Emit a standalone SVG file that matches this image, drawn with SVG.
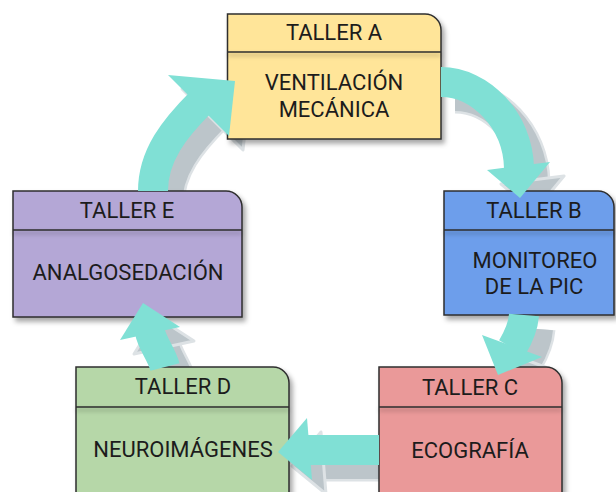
<svg xmlns="http://www.w3.org/2000/svg" width="616" height="492" viewBox="0 0 616 492">
<style>
.box{stroke:#2f2f2f;stroke-width:1.5;filter:url(#boxShadow)}
.sep{fill:#2f2f2f;filter:url(#sepShadow)}
.t{font-family:Roboto,"Liberation Sans",sans-serif;font-size:22px;fill:#1c1c1c;text-anchor:middle}
.shaft{fill:none;stroke-width:30;stroke:#80E0D5}
.head{fill:#80E0D5}
.gs{fill:none;stroke-width:30;stroke:#bcc5ca}
.gh{fill:#bcc5ca;stroke:#dde2e5;stroke-width:3;stroke-linejoin:round}
.gsh{fill:none;stroke-width:35;stroke:#dde2e5}
</style>
<defs>
<filter id="boxShadow" x="-10%" y="-10%" width="130%" height="130%">
<feDropShadow dx="3" dy="4" stdDeviation="2.5" flood-color="#000" flood-opacity="0.35"/>
</filter>
<filter id="sepShadow" filterUnits="userSpaceOnUse" x="0" y="0" width="616" height="492">
<feDropShadow dx="0" dy="3" stdDeviation="2" flood-color="#000" flood-opacity="0.35"/>
</filter>
</defs>

<g id="arrow-shading">
<path class="gsh" d="M167,205 C167,169 189,142 215,116"/>
<path class="gsh" d="M455,96 C494,96 532,134 533,182"/>
<path class="gsh" d="M538,329 C537,342 532,352 526,362"/>
<path class="gsh" d="M393,464 L321,464"/>
<path class="gsh" d="M179,381 C176,369 166,357 164,346"/>
<path class="gs" d="M167,205 C167,169 189,142 215,116"/>
<polygon class="gh" points="182,89 249,95 243,150"/>
<path class="gs" d="M455,96 C494,96 532,134 533,182"/>
<polygon class="gh" points="501,184 534,212 564,176"/>
<path class="gs" d="M538,329 C537,342 532,352 526,362"/>
<polygon class="gh" points="496,349 512,389 556,371"/>
<path class="gs" d="M393,464 L321,464"/>
<polygon class="gh" points="321,432 292,466 326,494"/>
<path class="gs" d="M179,381 C176,369 166,357 164,346"/>
<polygon class="gh" points="134,354 157,317 194,341"/>
</g>

<g id="node-A">
<path class="box" fill="#FFE599" d="M227.5,14 H425 A16,16 0 0 1 441,30 V139 H227.5 Z"/>
<rect class="sep" x="227.5" y="51.25" width="213.5" height="1.5"/>
<text class="t" x="334" y="40">TALLER A</text>
<text class="t" x="334" y="90">VENTILACIÓN</text>
<text class="t" x="334" y="117">MECÁNICA</text>
</g>

<g id="node-B">
<path class="box" fill="#6D9EEB" d="M444,191 H598 A16,16 0 0 1 614,207 V315 H444 Z"/>
<rect class="sep" x="444" y="229.25" width="170" height="1.5"/>
<text class="t" x="534" y="218">TALLER B</text>
<text class="t" x="535" y="268">MONITOREO</text>
<text class="t" x="534" y="294">DE LA PIC</text>
</g>

<g id="node-C">
<path class="box" fill="#EA9999" d="M379,367 H546 A16,16 0 0 1 562,383 V505 H379 Z"/>
<rect class="sep" x="379" y="406.25" width="183" height="1.5"/>
<text class="t" x="470" y="395">TALLER C</text>
<text class="t" x="470" y="458">ECOGRAFÍA</text>
</g>

<g id="node-D">
<path class="box" fill="#B6D7A8" d="M76,367 H273 A16,16 0 0 1 289,383 V505 H76 Z"/>
<rect class="sep" x="76" y="406.25" width="213" height="1.5"/>
<text class="t" x="183" y="394">TALLER D</text>
<text class="t" x="183" y="457">NEUROIMÁGENES</text>
</g>

<g id="node-E">
<path class="box" fill="#B4A7D6" d="M13,191 H226 A16,16 0 0 1 242,207 V317 H13 Z"/>
<rect class="sep" x="13" y="229.25" width="229" height="1.5"/>
<text class="t" x="127" y="218">TALLER E</text>
<text class="t" x="128" y="280">ANALGOSEDACIÓN</text>
</g>

<g id="connectors">
<path class="shaft" d="M153,191 C153,155 175,128 201,102"/>
<polygon class="head" points="168,75 235,81 229,136"/>
<path class="shaft" d="M441,82 C480,82 518,120 519,168"/>
<polygon class="head" points="487,170 520,198 550,162"/>
<path class="shaft" d="M524,315 C523,328 518,338 512,348"/>
<polygon class="head" points="482,335 498,375 542,357"/>
<path class="shaft" d="M379,450 L307,450"/>
<polygon class="head" points="307,418 278,452 312,480"/>
<path class="shaft" d="M165,367 C162,355 152,343 150,332"/>
<polygon class="head" points="120,340 143,303 180,327"/>
</g>
</svg>
